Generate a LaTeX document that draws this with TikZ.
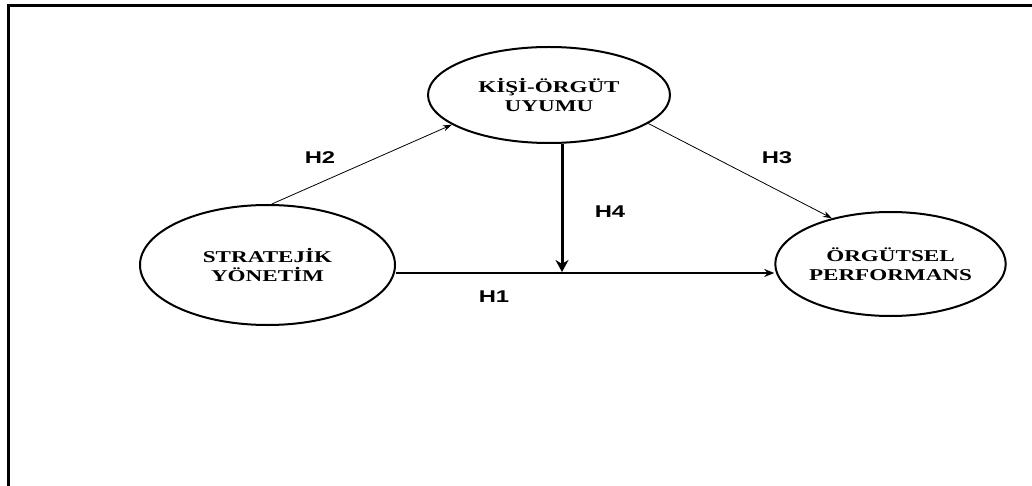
\documentclass[tikz,border=0pt]{standalone}
\usepackage{fontspec}
\usetikzlibrary{arrows.meta,shapes.geometric}
\newfontfamily\ellfont{Liberation Serif}[FakeStretch=1.4]
\newfontfamily\hfont{Liberation Sans}[FakeStretch=1.4]
\begin{document}
\begin{tikzpicture}[x=1pt,y=-1pt,
  construct/.style={draw,ellipse,line width=2pt,inner sep=0pt,align=center,
    font=\ellfont\bfseries\fontsize{16.5}{19}\selectfont},
  hlabel/.style={font=\hfont\bfseries\fontsize{17}{20}\selectfont,inner sep=0pt},
  thinarrow/.style={line width=0.8pt,-{Stealth[length=9pt,width=6pt]}},
  midarrow/.style={line width=1.8pt,-{Stealth[length=10pt,width=8pt]}},
  thickarrow/.style={line width=3pt,-{Stealth[length=12pt,width=13pt]}}]
\useasboundingbox (0,0) rectangle (1032,486);
\draw[line width=3pt] (1032,6) -- (8,6) -- (8,486);
\node[construct,minimum width=242pt,minimum height=96pt] (po) at (549,95) {KİŞİ-ÖRGÜT\\UYUMU};
\node[construct,minimum width=255pt,minimum height=120pt] (sy) at (267.5,265) {STRATEJİK\\YÖNETİM};
\node[construct,minimum width=220pt,minimum height=104pt] (op) at (890.5,264) {ÖRGÜTSEL\\PERFORMANS};
\coordinate (h1y) at (0,273);
\coordinate (h4end) at (562,272);
\draw[midarrow] (sy.east |- h1y) -- (op.west |- h1y);
\draw[thickarrow] (po.south -| h4end) -- (h4end);
\draw[thinarrow] (sy.86) -- (po.197);
\draw[thinarrow] (po.-16) -- (op.142);
\node[hlabel] (l1) at (494,297) {H1};
\node[hlabel] (l2) at (320,158) {H2};
\node[hlabel] (l3) at (777,158) {H3};
\node[hlabel] (l4) at (610,212) {H4};
\end{tikzpicture}
\end{document}
